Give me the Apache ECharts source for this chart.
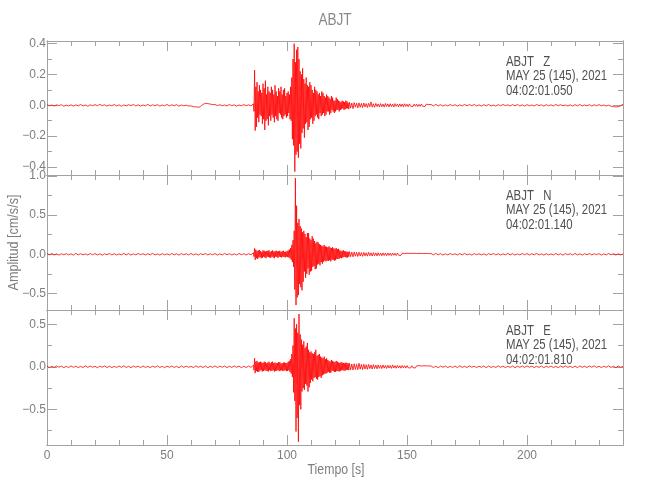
<!DOCTYPE html>
<html>
<head>
<meta charset="utf-8">
<script src="https://cdn.jsdelivr.net/npm/echarts@6/dist/echarts.min.js"></script>
<style>html,body{margin:0;padding:0;background:#fff}#c{width:650px;height:500px}</style>
</head>
<body>
<div id="c"></div>
<script>
// ---- sampling grid (seconds): segment start times and sample steps ----
const segStart = [0, 86, 126, 160];
const segStep = [1, 0.25, 0.5, 1];

// ---- axis ticks ----
const xMajor = [0, 50, 100, 150, 200];
const xMinor = [10, 20, 30, 40, 60, 70, 80, 90, 110, 120, 130, 140, 160, 170, 180, 190, 210, 220, 230];
const zMajor = [-0.4, -0.2, 0, 0.2, 0.4];
const zMinor = [-0.3, -0.1, 0.1, 0.3];
const nMajor = [-0.5, 0, 0.5, 1.0];
const nMinor = [-0.25, 0.25, 0.75];
const eMajor = [-0.5, 0, 0.5];
const eMinor = [-0.75, -0.25, 0.25];
const zRange = [-0.452, 0.417];
const nRange = [-0.71, 1.011];
const eRange = [-0.918, 0.667];

// ---- texts ----
const chartTitle = 'ABJT';
const yName = 'Amplitud [cm/s/s]';
const xName = 'Tiempo [s]';
const zNote = ['ABJT   Z', 'MAY 25 (145), 2021', '04:02:01.050'];
const nNote = ['ABJT   N', 'MAY 25 (145), 2021', '04:02:01.140'];
const eNote = ['ABJT   E', 'MAY 25 (145), 2021', '04:02:01.810'];

// ---- Z component (cm/s/s) ----
const zPre = [0.004,-0.003,0.002,-0.005,0.003,-0.002,0.004,-0.006,0.001,-0.004,
0.003,-0.005,0.002,-0.003,0.005,-0.004,0.002,-0.006,0.003,-0.002,
0.004,-0.003,0.006,-0.002,0.003,-0.005,0.002,-0.003,0.005,-0.004,
0.003,-0.006,0.002,-0.003,0.004,-0.002,0.005,-0.004,0.003,-0.005,
0.002,-0.003,0.006,-0.004,0.003,-0.002,0.004,-0.005,0.002,-0.003,
0.005,-0.004,0.003,-0.002,0.004,-0.006,0.002,-0.003,0.001,-0.005,
-0.004,-0.009,-0.010,-0.013,-0.008,0.006,0.013,0.011,0.008,0.004,
0.005,-0.002,0.004,-0.003,0.002,-0.004,0.005,-0.002,0.003,-0.005,
0.002,-0.003,0.004,-0.002,0.003,-0.004];
const zActive = [0.01,-0.04,0.228,-0.164,
0.12,-0.14,0.15,-0.08, 0.09,-0.11,0.13,-0.06, 0.10,-0.07,0.08,-0.12, 0.14,-0.09,0.11,-0.16,
0.16,-0.10,0.07,-0.09, 0.12,-0.13,0.09,-0.07, 0.08,-0.10,0.12,-0.06, 0.10,-0.08,0.07,-0.11,
0.13,-0.07,0.09,-0.09, 0.06,-0.10,0.11,-0.05, 0.09,-0.06,0.12,-0.08, 0.07,-0.09,0.10,-0.07,
0.11,-0.06,0.06,-0.08, 0.08,-0.07,0.09,-0.05, 0.07,-0.09,0.12,-0.10, 0.18,-0.22,0.30,-0.26,
0.40,-0.43,0.28,-0.32, 0.36,-0.30,0.378,-0.34, 0.30,-0.25,0.22,-0.28, 0.20,-0.18,0.24,-0.15,
0.17,-0.21,0.14,-0.12, 0.18,-0.11,0.13,-0.16, 0.12,-0.14,0.15,-0.09, 0.13,-0.08,0.10,-0.12,
0.08,-0.10,0.12,-0.07, 0.10,-0.06,0.09,-0.08, 0.07,-0.09,0.08,-0.05, 0.06,-0.07,0.09,-0.06,
0.08,-0.05,0.06,-0.07, 0.05,-0.06,0.07,-0.04, 0.06,-0.04,0.05,-0.06, 0.04,-0.05,0.06,-0.03,
0.05,-0.04,0.03,-0.05, 0.03,-0.04,0.05,-0.03, 0.04,-0.03,0.03,-0.04, 0.025,-0.03,0.02,-0.025,
0.03,-0.02,0.025,-0.03, 0.02,-0.025,0.03,-0.02, 0.025,-0.02,0.015,-0.025];
const zTail = [0.02,-0.018,0.015,-0.022,0.018,-0.012,0.014,-0.017,0.016,-0.013,
0.012,-0.015,0.015,-0.01,0.011,-0.014,0.013,-0.009,0.022,-0.012,
0.01,-0.013,0.012,-0.008,0.009,-0.011,0.011,-0.009,0.008,-0.012,
0.012,-0.008,0.009,-0.01,0.01,-0.008,0.008,-0.011,0.011,-0.007,
0.007,-0.009,0.009,-0.008,0.008,-0.01,0.01,-0.007,0.007,-0.009,
0.009,-0.006,0.006,-0.008,0.008,-0.006,0.007,-0.008,0.006,-0.007,
0.008,-0.006,0.006,-0.008,0.007,-0.005,0.005,-0.007];
const zPost = [0.005,-0.004,0.006,-0.003,0.004,-0.005,0.003,-0.004,0.005,-0.003,
0.004,-0.005,0.003,-0.004,0.006,-0.003,0.004,-0.002,0.005,-0.004,
0.003,-0.005,0.004,-0.003,0.005,-0.004,0.002,-0.005,0.004,-0.003,
0.005,-0.002,0.003,-0.004,0.004,-0.003,0.005,-0.004,0.003,-0.005,
0.004,-0.003,0.002,-0.004,0.005,-0.002,0.003,-0.005,0.004,-0.003,
0.003,-0.004,0.005,-0.002,0.004,-0.003,0.002,-0.004,0.003,-0.005,
0.004,-0.003,0.005,-0.004,0.002,-0.003,0.004,-0.005,0.003,-0.002,
0.004,-0.003,0.002,-0.005,0.001,-0.006,-0.008,-0.011,-0.009,-0.004,0.008];

// ---- N component ----
const nPre = [0.008,-0.006,0.01,-0.009,0.005,-0.011,0.007,-0.005,0.009,-0.008,
0.006,-0.01,0.011,-0.006,0.008,-0.007,0.005,-0.009,0.01,-0.006,
0.009,-0.008,0.006,-0.011,0.007,-0.005,0.01,-0.007,0.008,-0.009,
0.005,-0.006,0.011,-0.008,0.009,-0.01,0.006,-0.007,0.01,-0.005,
0.008,-0.009,0.007,-0.006,0.012,-0.008,0.005,-0.01,0.009,-0.007,
0.006,-0.008,0.01,-0.005,0.007,-0.011,0.009,-0.006,0.008,-0.009,
0.011,-0.007,0.006,-0.009,0.008,-0.005,0.01,-0.008,0.007,-0.006,
0.009,-0.01,0.005,-0.007,0.011,-0.006,0.008,-0.009,0.006,-0.008,
0.01,-0.005,0.007,-0.009,0.008,-0.006];
const nActive = [0.02,-0.03,0.075,-0.07,
0.06,-0.05,0.04,-0.06, 0.05,-0.04,0.055,-0.035, 0.04,-0.05,0.03,-0.045, 0.05,-0.03,0.045,-0.04,
0.035,-0.05,0.04,-0.03, 0.045,-0.035,0.05,-0.04, 0.03,-0.045,0.04,-0.03, 0.05,-0.04,0.035,-0.05,
0.04,-0.03,0.045,-0.035, 0.035,-0.045,0.04,-0.03, 0.045,-0.035,0.03,-0.04, 0.04,-0.03,0.045,-0.035,
0.03,-0.04,0.035,-0.03, 0.04,-0.035,0.05,-0.04, 0.06,-0.05,0.08,-0.07, 0.12,-0.10,0.18,-0.16,
0.30,-0.45,0.97,-0.647, 0.62,-0.55,0.40,-0.52, 0.45,-0.38,0.36,-0.42, 0.33,-0.46,0.28,-0.35,
0.30,-0.22,0.26,-0.30, 0.22,-0.25,0.27,-0.18, 0.27,-0.26,0.20,-0.22, 0.18,-0.21,0.23,-0.16,
0.20,-0.15,0.17,-0.19, 0.14,-0.18,0.16,-0.13, 0.15,-0.12,0.13,-0.14, 0.12,-0.10,0.11,-0.12,
0.10,-0.095,0.12,-0.08, 0.10,-0.09,0.095,-0.08, 0.09,-0.085,0.10,-0.075, 0.085,-0.09,0.08,-0.07,
0.09,-0.07,0.075,-0.08, 0.07,-0.075,0.08,-0.06, 0.065,-0.06,0.07,-0.055, 0.05,-0.045,0.04,-0.05,
0.045,-0.04,0.05,-0.035, 0.04,-0.035,0.035,-0.04, 0.035,-0.04,0.03,-0.03];
const nTail = [0.035,-0.03,0.028,-0.032,0.03,-0.025,0.025,-0.028,0.027,-0.022,
0.022,-0.026,0.024,-0.02,0.02,-0.023,0.025,-0.018,0.019,-0.022,
0.021,-0.017,0.018,-0.02,0.02,-0.016,0.016,-0.019,0.018,-0.015,
0.015,-0.018,0.017,-0.014,0.014,-0.016,0.016,-0.013,0.013,-0.015,
0.015,-0.012,0.012,-0.014,0.014,-0.011,0.011,-0.013,0.013,-0.012,
0.012,-0.013,0.011,-0.012,0.013,-0.01,0.01,-0.012,0.012,-0.011,
0.011,-0.01,0.01,-0.012,0.012,-0.009,0.009,-0.011];
const nPost = [0.009,-0.007,0.011,-0.006,0.008,-0.01,0.006,-0.008,0.01,-0.005,
0.007,-0.009,0.008,-0.006,0.011,-0.007,0.005,-0.01,0.009,-0.006,
0.008,-0.008,0.006,-0.011,0.009,-0.005,0.01,-0.007,0.007,-0.009,
0.006,-0.006,0.011,-0.008,0.008,-0.01,0.005,-0.007,0.01,-0.006,
0.009,-0.009,0.007,-0.005,0.011,-0.008,0.006,-0.01,0.008,-0.007,
0.005,-0.008,0.01,-0.006,0.007,-0.011,0.009,-0.005,0.008,-0.009,
0.011,-0.007,0.006,-0.009,0.008,-0.006,0.01,-0.008,0.007,-0.005,
0.009,-0.01,0.005,-0.007,0.011,-0.006,0.008,-0.009,0.006,-0.008,0.004];

// ---- E component ----
const ePre = [0.007,-0.009,0.006,-0.007,0.01,-0.005,0.008,-0.01,0.006,-0.008,
0.011,-0.006,0.007,-0.009,0.005,-0.008,0.01,-0.007,0.009,-0.006,
0.006,-0.011,0.008,-0.005,0.01,-0.008,0.007,-0.009,0.005,-0.007,
0.009,-0.006,0.011,-0.008,0.006,-0.01,0.008,-0.005,0.007,-0.009,
0.01,-0.007,0.005,-0.009,0.008,-0.006,0.011,-0.008,0.006,-0.01,
0.007,-0.005,0.009,-0.008,0.006,-0.011,0.01,-0.007,0.008,-0.006,
0.005,-0.009,0.01,-0.006,0.007,-0.008,0.009,-0.01,0.006,-0.007,
0.011,-0.008,0.007,-0.005,0.009,-0.009,0.006,-0.007,0.01,-0.006,
0.008,-0.01,0.006,-0.008,0.009,-0.007];
const eActive = [0.02,-0.04,0.10,-0.074,
0.06,-0.05,0.07,-0.06, 0.05,-0.06,0.055,-0.045, 0.06,-0.04,0.05,-0.055, 0.045,-0.05,0.06,-0.04,
0.055,-0.045,0.04,-0.05, 0.05,-0.055,0.06,-0.04, 0.04,-0.05,0.055,-0.045, 0.06,-0.04,0.045,-0.055,
0.05,-0.05,0.04,-0.045, 0.045,-0.04,0.055,-0.05, 0.055,-0.045,0.04,-0.04, 0.04,-0.05,0.05,-0.045,
0.05,-0.04,0.045,-0.05, 0.045,-0.05,0.06,-0.04, 0.07,-0.06,0.09,-0.08, 0.15,-0.12,0.25,-0.30,
0.57,-0.40,0.45,-0.76, 0.50,-0.60,0.40,-0.88, 0.62,-0.45,0.38,-0.50, 0.32,-0.29,0.26,-0.25,
0.30,-0.27,0.22,-0.20, 0.24,-0.22,0.28,-0.29, 0.20,-0.24,0.17,-0.19, 0.18,-0.15,0.16,-0.17,
0.15,-0.13,0.17,-0.12, 0.20,-0.14,0.13,-0.15, 0.14,-0.12,0.15,-0.11, 0.12,-0.13,0.11,-0.10,
0.10,-0.09,0.12,-0.08, 0.09,-0.08,0.10,-0.07, 0.08,-0.06,0.07,-0.07, 0.06,-0.07,0.08,-0.05,
0.07,-0.05,0.06,-0.06, 0.055,-0.06,0.07,-0.05, 0.06,-0.05,0.05,-0.055, 0.045,-0.05,0.055,-0.04,
0.05,-0.04,0.045,-0.045, 0.04,-0.045,0.05,-0.035, 0.045,-0.035,0.04,-0.04];
const eTail = [0.04,-0.035,0.032,-0.038,0.036,-0.03,0.03,-0.034,0.042,-0.028,
0.027,-0.032,0.03,-0.026,0.025,-0.029,0.028,-0.022,0.022,-0.026,
0.025,-0.02,0.02,-0.024,0.023,-0.018,0.018,-0.021,0.021,-0.016,
0.016,-0.019,0.019,-0.015,0.015,-0.018,0.022,-0.014,0.014,-0.017,
0.016,-0.013,0.013,-0.016,0.015,-0.012,0.012,-0.015,0.014,-0.011,
0.011,-0.014,0.013,-0.011,0.012,-0.013,0.011,-0.012,0.013,-0.01,
0.01,-0.012,0.012,-0.01,0.011,-0.012,0.01,-0.011];
const ePost = [0.01,-0.008,0.007,-0.011,0.009,-0.006,0.008,-0.009,0.006,-0.007,
0.009,-0.01,0.011,-0.007,0.006,-0.008,0.01,-0.005,0.008,-0.009,
0.007,-0.006,0.009,-0.011,0.01,-0.007,0.005,-0.008,0.011,-0.006,
0.008,-0.009,0.006,-0.007,0.01,-0.01,0.007,-0.006,0.009,-0.008,
0.011,-0.005,0.008,-0.009,0.006,-0.007,0.01,-0.011,0.007,-0.006,
0.009,-0.008,0.005,-0.01,0.008,-0.006,0.011,-0.007,0.006,-0.009,
0.008,-0.01,0.01,-0.006,0.007,-0.008,0.009,-0.005,0.011,-0.007,
0.006,-0.009,0.008,-0.006,0.01,-0.008,0.007,-0.01,0.009,-0.006,0.005];

// ---------------------------------------------------------------
function buildTrace(segs) {
  const out = [];
  segs.forEach((vals, s) => {
    vals.forEach((v, i) => out.push([segStart[s] + i * segStep[s], v]));
  });
  return out;
}

const AX = '#a2a2a2';
const LB = '#7e7e7e';
const FONT = "'Liberation Sans',Arial,sans-serif";
const fmt = v => (v < 0 ? '\u2212' : '') + Math.abs(v).toFixed(1);

const panels = [
  { segs: [zPre, zActive, zTail, zPost], range: zRange, major: zMajor, minor: zMinor, note: zNote },
  { segs: [nPre, nActive, nTail, nPost], range: nRange, major: nMajor, minor: nMinor, note: nNote },
  { segs: [ePre, eActive, eTail, ePost], range: eRange, major: eMajor, minor: eMinor, note: eNote }
];
const gridTops = [41, 175, 310];
const gridHeights = [134, 135, 135];
const gridLeft = 47, gridWidth = 576;

const grids = [], xAxes = [], yAxes = [], series = [], graphics = [];

function mkX(g, pos, ticks, len, labels) {
  return {
    type: 'value', gridIndex: g, position: pos, min: 0, max: 240,
    axisLine: { show: true, onZero: false, lineStyle: { color: AX, width: 1 } },
    axisTick: { show: true, inside: true, length: len, customValues: ticks, lineStyle: { color: AX, width: 1 } },
    axisLabel: { show: labels, customValues: xMajor, margin: 5, color: LB, fontSize: 12, fontFamily: FONT },
    splitLine: { show: false }, minorTick: { show: false }
  };
}
function mkY(g, pos, ticks, len, labels, p) {
  return {
    type: 'value', gridIndex: g, position: pos, min: p.range[0], max: p.range[1],
    axisLine: { show: true, onZero: false, lineStyle: { color: AX, width: 1 } },
    axisTick: { show: true, inside: true, length: len, customValues: ticks, lineStyle: { color: AX, width: 1 } },
    axisLabel: { show: labels, customValues: p.major, formatter: fmt, margin: 1, color: LB, fontSize: 12, fontFamily: FONT },
    splitLine: { show: false }, minorTick: { show: false }
  };
}

panels.forEach((p, g) => {
  grids.push({ left: gridLeft, width: gridWidth, top: gridTops[g], height: gridHeights[g], containLabel: false });
  const xi = xAxes.length, yi = yAxes.length;
  xAxes.push(mkX(g, 'bottom', xMajor, 10, g === 2));
  xAxes.push(mkX(g, 'bottom', xMinor, 5, false));
  xAxes.push(mkX(g, 'top', xMajor, 10, false));
  xAxes.push(mkX(g, 'top', xMinor, 5, false));
  yAxes.push(mkY(g, 'left', p.major, 10, true, p));
  yAxes.push(mkY(g, 'left', p.minor, 5, false, p));
  yAxes.push(mkY(g, 'right', p.major, 10, false, p));
  yAxes.push(mkY(g, 'right', p.minor, 5, false, p));
  series.push({
    type: 'line', xAxisIndex: xi, yAxisIndex: yi, data: buildTrace(p.segs),
    showSymbol: false, symbol: 'none', sampling: null, clip: true, silent: true,
    lineStyle: { color: '#ff0000', width: 0.8 }
  });
  graphics.push({
    type: 'text', x: 506, y: gridTops[g] + 13.3, scaleX: 0.76, silent: true,
    style: { text: p.note.join('\n'), fill: '#505050', font: "15px " + FONT,
      lineHeight: 14.5, textAlign: 'left', textVerticalAlign: 'top' }
  });
});

graphics.push({
  type: 'text', x: 335, y: 20, scaleX: 0.8, silent: true,
  style: { text: chartTitle, fill: '#8a8a8a', font: "17px " + FONT, textAlign: 'center', textVerticalAlign: 'middle' }
});
graphics.push({
  type: 'text', x: 14, y: 242.5, rotation: Math.PI / 2, scaleX: 0.84, silent: true,
  style: { text: yName, fill: '#7e7e7e', font: "15px " + FONT, textAlign: 'center', textVerticalAlign: 'middle' }
});
graphics.push({
  type: 'text', x: 336, y: 470, scaleX: 0.82, silent: true,
  style: { text: xName, fill: '#7e7e7e', font: "15px " + FONT, textAlign: 'center', textVerticalAlign: 'middle' }
});

const chart = echarts.init(document.getElementById('c'), null, { renderer: 'canvas' });
chart.setOption({
  backgroundColor: '#ffffff',
  animation: false,
  grid: grids,
  xAxis: xAxes,
  yAxis: yAxes,
  series: series,
  graphic: graphics
});
</script>
</body>
</html>
